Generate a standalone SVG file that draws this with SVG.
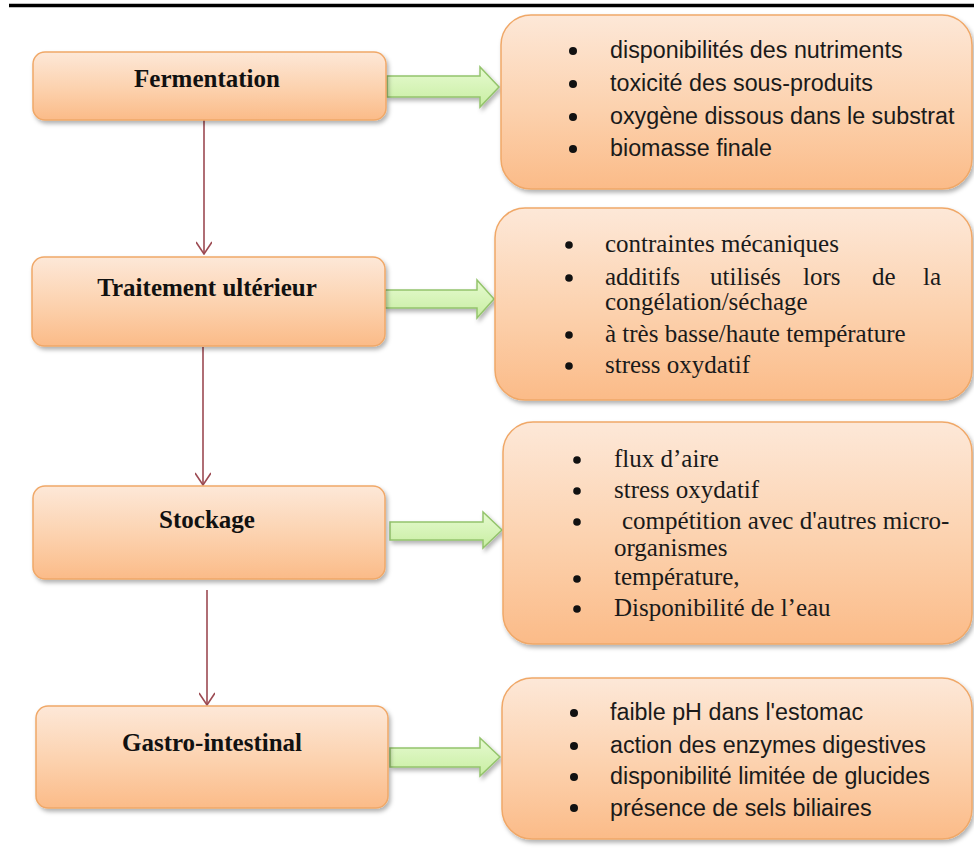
<svg xmlns="http://www.w3.org/2000/svg" width="974" height="855" viewBox="0 0 974 855">
<defs>
  <linearGradient id="gBox" x1="0" y1="0" x2="0" y2="1">
    <stop offset="0" stop-color="#fde8d8"/>
    <stop offset="0.55" stop-color="#fcd1ad"/>
    <stop offset="1" stop-color="#fbbb88"/>
  </linearGradient>
  <linearGradient id="gArrow" x1="0" y1="0" x2="0" y2="1">
    <stop offset="0" stop-color="#e6fad0"/>
    <stop offset="1" stop-color="#c8eea2"/>
  </linearGradient>
  <filter id="sh" x="-5%" y="-10%" width="112%" height="130%">
    <feDropShadow dx="2" dy="3" stdDeviation="2" flood-color="#000" flood-opacity="0.3"/>
  </filter>
  <marker id="vhead" viewBox="0 0 14 16" refX="13" refY="8" markerWidth="14" markerHeight="16" markerUnits="userSpaceOnUse" orient="auto">
    <path d="M1,0 L13,8 L1,16" fill="none" stroke="#9c4a52" stroke-width="1.6"/>
  </marker>
  <style>
    .box{fill:url(#gBox);stroke:#f0a868;stroke-width:1.5;filter:url(#sh);}
    .arr{fill:url(#gArrow);stroke:#94c46c;stroke-width:1.5;filter:url(#sh);}
    .conn{stroke:#9c4a52;stroke-width:1.6;fill:none;}
    .lbl{font-family:"Liberation Serif","Times New Roman",serif;font-weight:bold;font-size:25px;fill:#111;text-anchor:middle;}
    .sans{font-family:"Liberation Sans",Arial,sans-serif;font-size:23.3px;fill:#1a1a1a;}
    .serif{font-family:"Liberation Serif","Times New Roman",serif;font-size:25px;fill:#1a1a1a;}
    .bul{fill:#111;}
  </style>
</defs>
<rect x="0" y="0" width="974" height="855" fill="#ffffff"/>
<line x1="9" y1="5.5" x2="974" y2="5.5" stroke="#000" stroke-width="3.5"/>

<g id="connectors">
  <line class="conn" x1="204" y1="120" x2="204" y2="254" marker-end="url(#vhead)"/>
  <line class="conn" x1="203" y1="347" x2="203" y2="485" marker-end="url(#vhead)"/>
  <line class="conn" x1="207" y1="590" x2="207" y2="705" marker-end="url(#vhead)"/>
  <path class="arr" d="M387,76 L480,76 L480,67 L499,87 L480,107 L480,97 L387,97 Z"/>
  <path class="arr" d="M385,290 L477,290 L477,280 L494,299 L477,318 L477,308 L385,308 Z"/>
  <path class="arr" d="M390,522 L483,522 L483,512 L502,530 L483,548 L483,540 L390,540 Z"/>
  <path class="arr" d="M390,748 L480,748 L480,738 L500,757 L480,776 L480,767 L390,767 Z"/>
</g>

<g id="fermentation">
  <rect class="box" x="33" y="52" width="353" height="68" rx="12"/>
  <text class="lbl" x="207" y="87">Fermentation</text>
</g>
<g id="traitement">
  <rect class="box" x="32" y="257" width="353" height="89" rx="12"/>
  <text class="lbl" x="207" y="296">Traitement ultérieur</text>
</g>
<g id="stockage">
  <rect class="box" x="33" y="486" width="352" height="93" rx="12"/>
  <text class="lbl" x="207" y="528">Stockage</text>
</g>
<g id="gastro">
  <rect class="box" x="36" y="706" width="352" height="102" rx="12"/>
  <text class="lbl" x="212" y="751">Gastro-intestinal</text>
</g>

<g id="facteurs-fermentation">
  <rect class="box" x="501" y="15" width="471" height="174" rx="30"/>
  <circle class="bul" cx="573" cy="51" r="4"/>
  <circle class="bul" cx="573" cy="84" r="4"/>
  <circle class="bul" cx="573" cy="117" r="4"/>
  <circle class="bul" cx="573" cy="149" r="4"/>
  <text class="sans" x="610" y="58">disponibilités des nutriments</text>
  <text class="sans" x="610" y="91">toxicité des sous-produits</text>
  <text class="sans" x="610" y="124">oxygène dissous dans le substrat</text>
  <text class="sans" x="610" y="156">biomasse finale</text>
</g>

<g id="facteurs-traitement">
  <rect class="box" x="495" y="208" width="477" height="192" rx="30"/>
  <circle class="bul" cx="569" cy="245" r="3.8"/>
  <circle class="bul" cx="569" cy="278" r="3.8"/>
  <circle class="bul" cx="569" cy="335" r="3.8"/>
  <circle class="bul" cx="569" cy="366" r="3.8"/>
  <text class="serif" x="605" y="252">contraintes mécaniques</text>
  <text class="serif" y="285"><tspan x="605">additifs</tspan><tspan x="710">utilisés</tspan><tspan x="803">lors</tspan><tspan x="872">de</tspan><tspan x="923">la</tspan></text>
  <text class="serif" x="605" y="310">congélation/séchage</text>
  <text class="serif" x="605" y="342">à très basse/haute température</text>
  <text class="serif" x="605" y="373">stress oxydatif</text>
</g>

<g id="facteurs-stockage">
  <rect class="box" x="503" y="422" width="469" height="222" rx="30"/>
  <circle class="bul" cx="577" cy="460" r="3.8"/>
  <circle class="bul" cx="577" cy="491" r="3.8"/>
  <circle class="bul" cx="577" cy="522" r="3.8"/>
  <circle class="bul" cx="577" cy="579" r="3.8"/>
  <circle class="bul" cx="577" cy="609" r="3.8"/>
  <text class="serif" x="614" y="467">flux d’aire</text>
  <text class="serif" x="614" y="498">stress oxydatif</text>
  <text class="serif" x="622" y="529">compétition avec d'autres micro-</text>
  <text class="serif" x="614" y="556">organismes</text>
  <text class="serif" x="614" y="585">température,</text>
  <text class="serif" x="614" y="616">Disponibilité de l’eau</text>
</g>

<g id="facteurs-gastro">
  <rect class="box" x="502" y="678" width="470" height="161" rx="30"/>
  <circle class="bul" cx="574" cy="713" r="4"/>
  <circle class="bul" cx="574" cy="746" r="4"/>
  <circle class="bul" cx="574" cy="777" r="4"/>
  <circle class="bul" cx="574" cy="808" r="4"/>
  <text class="sans" x="610" y="720">faible pH dans l'estomac</text>
  <text class="sans" x="610" y="753">action des enzymes digestives</text>
  <text class="sans" x="610" y="784">disponibilité limitée de glucides</text>
  <text class="sans" x="610" y="816">présence de sels biliaires</text>
</g>
</svg>
